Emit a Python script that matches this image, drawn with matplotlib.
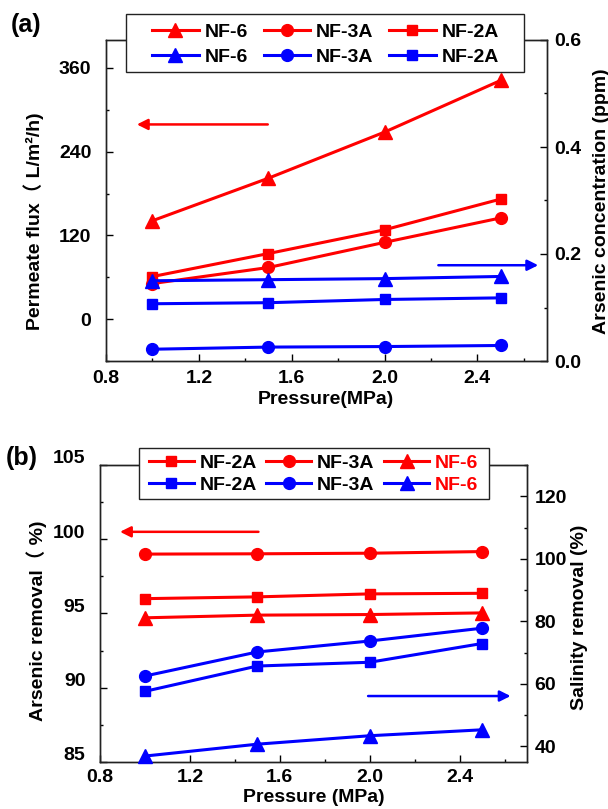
import matplotlib
matplotlib.use("Agg")
import matplotlib.pyplot as plt
import matplotlib.transforms as mtransforms
from matplotlib.patches import Rectangle
from matplotlib.ticker import MultipleLocator

plt.rcParams['font.family'] = ['Liberation Sans', 'Noto Sans CJK SC']
plt.rcParams['font.weight'] = 'bold'
plt.rcParams['axes.labelweight'] = 'bold'

# data
pressure = [1.0, 1.5, 2.0, 2.5]

# (a) permeate flux (left axis, L/m2/h)
flux_nf6 = [141, 202, 268, 342]
flux_nf3a = [51, 74, 110, 145]
flux_nf2a = [61, 94, 128, 172]
# (a) arsenic concentration in permeate (right axis, ppm)
conc_nf6 = [0.150, 0.152, 0.154, 0.158]
conc_nf3a = [0.022, 0.026, 0.027, 0.029]
conc_nf2a = [0.107, 0.109, 0.115, 0.118]

# (b) arsenic removal (left axis, %)
as_rem_nf2a = [96.0, 96.12, 96.32, 96.36]
as_rem_nf3a = [99.0, 99.02, 99.06, 99.17]
as_rem_nf6 = [94.71, 94.89, 94.93, 95.04]
# (b) salinity removal (right axis, %)
sal_rem_nf2a = [57.6, 65.7, 66.9, 72.9]
sal_rem_nf3a = [62.5, 70.2, 73.7, 77.8]
sal_rem_nf6 = [36.9, 40.7, 43.4, 45.3]

RED = '#ff0000'
BLUE = '#0000ff'
W, H = 608, 809

fig = plt.figure(figsize=(W / 100, H / 100), dpi=100)


def px_axes(left, top, right, bottom):
    return fig.add_axes([left / W, 1 - bottom / H, (right - left) / W, (bottom - top) / H])


def style_axis(ax, pad_left, pad_bottom):
    for sp in ax.spines.values():
        sp.set_linewidth(1.0)
        sp.set_color('#222222')
    ax.tick_params(which='both', direction='in', labelsize=14, width=1.0)
    ax.tick_params(which='major', length=4.8)
    ax.tick_params(which='minor', length=2.5)
    ax.tick_params(axis='y', pad=pad_left)
    ax.tick_params(axis='x', pad=pad_bottom)


def line(ax, x, y, color, marker, ms):
    return ax.plot(x, y, color=color, marker=marker, ms=ms, lw=2.2, clip_on=False, zorder=3)[0]


def arrow(ax, tail, head, color):
    ax.annotate('', xy=head, xytext=tail,
                arrowprops=dict(arrowstyle='-|>', color=color, lw=1.8, mutation_scale=16,
                                shrinkA=0, shrinkB=0))


# ---------------- panel (a) ----------------
ax1 = px_axes(106, 40, 547, 361)
ax1r = ax1.twinx()

a_r6 = line(ax1, pressure, flux_nf6, RED, '^', 9.5)
a_r3 = line(ax1, pressure, flux_nf3a, RED, 'o', 8.5)
a_r2 = line(ax1, pressure, flux_nf2a, RED, 's', 7.5)
a_b6 = line(ax1r, pressure, conc_nf6, BLUE, '^', 9.5)
a_b3 = line(ax1r, pressure, conc_nf3a, BLUE, 'o', 8.5)
a_b2 = line(ax1r, pressure, conc_nf2a, BLUE, 's', 7.5)

ax1.set_xlim(0.8, 2.7)
ax1.set_ylim(-60, 400)
ax1r.set_ylim(0, 0.6)
ax1.xaxis.set_major_locator(MultipleLocator(0.4))
ax1.xaxis.set_minor_locator(MultipleLocator(0.2))
ax1.yaxis.set_major_locator(MultipleLocator(120))
ax1.yaxis.set_minor_locator(MultipleLocator(60))
ax1r.yaxis.set_major_locator(MultipleLocator(0.2))
ax1r.yaxis.set_minor_locator(MultipleLocator(0.1))
ax1.xaxis.set_major_formatter(lambda v, p: f'{v:.1f}')
ax1r.yaxis.set_major_formatter(lambda v, p: f'{v:.1f}')
style_axis(ax1, 10.5, 6.5)
style_axis(ax1r, 5, 6.5)

arrow(ax1, (1.497, 279), (0.933, 279), RED)
arrow(ax1r, (2.232, 0.179), (2.662, 0.179), BLUE)

ax1.set_xlabel('Pressure(MPa)', fontsize=14, va='center')
ax1.xaxis.set_label_coords(326 / W, 1 - 400 / H, transform=fig.transFigure)
ax1.set_ylabel('Permeate flux（ L/m²/h)', fontsize=14, va='center', ha='center')
ax1.yaxis.set_label_coords(34 / W, 1 - 221 / H, transform=fig.transFigure)
ax1r.set_ylabel('Arsenic concentration (ppm)', fontsize=14, va='center', ha='center')
ax1r.yaxis.set_label_coords(601 / W, 1 - 201 / H, transform=fig.transFigure)

fig.add_artist(Rectangle((126 / W, 1 - 72 / H), 398 / W, 58 / H, transform=fig.transFigure,
                         facecolor='white', edgecolor='#222222', lw=1.0, zorder=4))
leg_a = fig.legend([a_r6, a_b6, a_r3, a_b3, a_r2, a_b2],
                   ['NF-6', 'NF-6', 'NF-3A', 'NF-3A', 'NF-2A', 'NF-2A'],
                   loc='center', bbox_to_anchor=(325.5 / W, 1 - 44.5 / H), ncol=3,
                   frameon=False, fontsize=14, handlelength=2.4, handletextpad=0.3,
                   columnspacing=0.8, labelspacing=0.4, borderpad=0)
leg_a.set_zorder(5)

fig.text(26 / W, 1 - 25 / H, '(a)', fontsize=18, ha='center', va='center')

# ---------------- panel (b) ----------------
ax2 = px_axes(100, 465, 527, 762)
ax2r = ax2.twinx()

b_r2 = line(ax2, pressure, as_rem_nf2a, RED, 's', 7.5)
b_r3 = line(ax2, pressure, as_rem_nf3a, RED, 'o', 8.5)
b_r6 = line(ax2, pressure, as_rem_nf6, RED, '^', 9.5)
b_b2 = line(ax2r, pressure, sal_rem_nf2a, BLUE, 's', 7.5)
b_b3 = line(ax2r, pressure, sal_rem_nf3a, BLUE, 'o', 8.5)
b_b6 = line(ax2r, pressure, sal_rem_nf6, BLUE, '^', 9.5)

ax2.set_xlim(0.8, 2.7)
ax2.set_ylim(85, 105)
ax2r.set_ylim(35, 130)
ax2.xaxis.set_major_locator(MultipleLocator(0.4))
ax2.xaxis.set_minor_locator(MultipleLocator(0.2))
ax2.yaxis.set_major_locator(MultipleLocator(5))
ax2.yaxis.set_minor_locator(MultipleLocator(2.5))
ax2r.yaxis.set_major_locator(MultipleLocator(20))
ax2r.yaxis.set_minor_locator(MultipleLocator(10))
ax2r.set_yticks([40, 60, 80, 100, 120])
ax2.xaxis.set_major_formatter(lambda v, p: f'{v:.1f}')
style_axis(ax2, 10.5, 5)
style_axis(ax2r, 5.5, 5)

# left tick labels of panel (b) sit a little above their ticks
shift = mtransforms.ScaledTranslation(0, 0.08, fig.dpi_scale_trans)
for lab in ax2.get_yticklabels():
    lab.set_transform(lab.get_transform() + shift)

arrow(ax2, (1.505, 100.5), (0.889, 100.5), RED)
arrow(ax2r, (1.993, 56.1), (2.627, 56.1), BLUE)

ax2.set_xlabel('Pressure (MPa)', fontsize=14, va='center')
ax2.xaxis.set_label_coords(314 / W, 1 - 798 / H, transform=fig.transFigure)
ax2.set_ylabel('Arsenic removal（ %)', fontsize=14, va='center', ha='center')
ax2.yaxis.set_label_coords(37 / W, 1 - 621 / H, transform=fig.transFigure)
ax2r.set_ylabel('Salinity removal (%)', fontsize=14, va='center', ha='center')
ax2r.yaxis.set_label_coords(579 / W, 1 - 617 / H, transform=fig.transFigure)

fig.add_artist(Rectangle((139 / W, 1 - 499 / H), 350 / W, 51 / H, transform=fig.transFigure,
                         facecolor='white', edgecolor='#222222', lw=1.0, zorder=4))
leg_b = fig.legend([b_r2, b_b2, b_r3, b_b3, b_r6, b_b6],
                   ['NF-2A', 'NF-2A', 'NF-3A', 'NF-3A', 'NF-6', 'NF-6'],
                   loc='center', bbox_to_anchor=(313.5 / W, 1 - 474 / H), ncol=3,
                   frameon=False, fontsize=14, handlelength=2.3, handletextpad=0.3,
                   columnspacing=0.5, labelspacing=0.25, borderpad=0)
leg_b.set_zorder(5)
for txt in leg_b.get_texts()[4:]:
    txt.set_color(RED)

fig.text(22 / W, 1 - 458 / H, '(b)', fontsize=18, ha='center', va='center')

fig.savefig('out.png', dpi=100)
